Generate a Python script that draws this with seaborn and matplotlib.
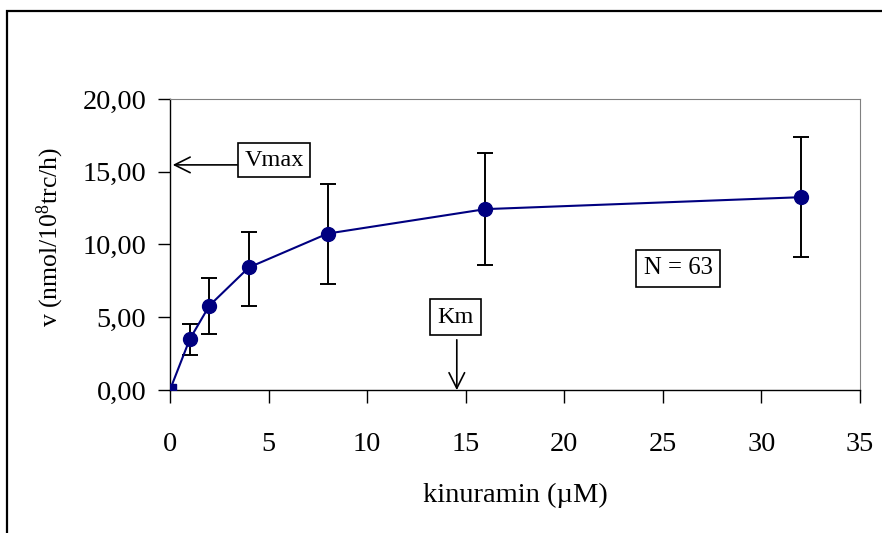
import numpy as np
import pandas as pd
import seaborn as sns
import matplotlib.pyplot as plt
from matplotlib.patches import Rectangle
from matplotlib.ticker import FuncFormatter

# Data
conc = [0, 1, 2, 4, 8, 16, 32]
rate = [0.0, 3.48, 5.8, 8.42, 10.75, 12.43, 13.25]
err_low = [0.0, 2.38, 3.85, 5.8, 7.3, 8.57, 9.12]
err_high = [0.0, 4.55, 7.7, 10.88, 14.16, 16.3, 17.4]

x_ticks = [0, 5, 10, 15, 20, 25, 30, 35]
y_ticks = [0, 5, 10, 15, 20]
vmax_y = 15.47
km_x = 14.55
n_label = 'N = 63'

df = pd.DataFrame({'conc': conc, 'rate': rate})

sns.set_style('ticks')
plt.rcParams['font.family'] = ['Liberation Serif', 'DejaVu Serif']
plt.rcParams['mathtext.fontset'] = 'custom'
plt.rcParams['mathtext.rm'] = 'Liberation Serif'
plt.rcParams['mathtext.default'] = 'regular'
plt.rcParams['text.color'] = 'black'
plt.rcParams['axes.labelcolor'] = 'black'
plt.rcParams['xtick.color'] = 'black'
plt.rcParams['ytick.color'] = 'black'

fig = plt.figure(figsize=(8.82, 5.33), dpi=100)
ax = fig.add_axes([0.1927, 0.2683, 0.975 - 0.1927, 0.8143 - 0.2683])

# outer frame of the picture
fig.patches.append(Rectangle((7 / 882, -0.5), 1.5, 1 - 11 / 533 + 0.5, transform=fig.transFigure,
                             fill=False, edgecolor='black', lw=1.6))

navy = '#000080'
# error bars
yerr = [np.array(rate) - np.array(err_low), np.array(err_high) - np.array(rate)]
ax.errorbar(conc[1:], rate[1:], yerr=[yerr[0][1:], yerr[1][1:]], fmt='none',
            ecolor='black', elinewidth=1.4, capsize=6, capthick=1.4, zorder=2)

sns.lineplot(data=df, x='conc', y='rate', color=navy, lw=1.5, ax=ax, zorder=3)
ax.plot(conc[1:], rate[1:], 'o', color=navy, markersize=10, zorder=4)
ax.plot(conc[:1], rate[:1], 's', color=navy, markersize=8, zorder=4, clip_on=True)

ax.set_xlim(0, 35)
ax.set_ylim(0, 20)
ax.set_xticks(x_ticks)
ax.set_yticks(y_ticks)
ax.yaxis.set_major_formatter(FuncFormatter(lambda v, p: f'{v:.2f}'.replace('.', ',')))
ax.tick_params(axis='x', length=9, width=1, pad=21, labelsize=20.3)
ax.tick_params(axis='y', length=9, width=1, pad=8, labelsize=20.3)

for s in ['top', 'right']:
    ax.spines[s].set_visible(True)
    ax.spines[s].set_color('#808080')
for s in ['left', 'bottom']:
    ax.spines[s].set_color('black')
    ax.spines[s].set_linewidth(1)

ax.set_xlabel('kinuramin (\u00b5M)', fontsize=20.5, labelpad=19)
ax.set_ylabel('v (nmol/10$^{8}$trc/h)', fontsize=18.5)
ax.yaxis.label.set_va('center')
ax.yaxis.set_label_coords((50 - 170) / 690, (390 - 237) / 291)

box = dict(boxstyle='square,pad=0.26', facecolor='white', edgecolor='black', lw=1.2)
# Vmax
ax.text(5.3, 15.8, 'Vmax', fontsize=17.5, ha='center', va='center', bbox=box)
ax.annotate('', xy=(0, vmax_y), xytext=(3.55, vmax_y),
            arrowprops=dict(arrowstyle='->', lw=1.2, color='black', mutation_scale=28))
# Km
ax.text(km_x - 0.05, 5.0, 'Km', fontsize=17.5, ha='center', va='center',
        bbox=dict(boxstyle='square,pad=0.3', facecolor='white', edgecolor='black', lw=1.2))
ax.annotate('', xy=(km_x, -0.2), xytext=(km_x, 3.64), annotation_clip=False,
            arrowprops=dict(arrowstyle='->', lw=1.2, color='black', mutation_scale=28))
# N
ax.text(25.77, 8.35, n_label, fontsize=17.8, ha='center', va='center',
        bbox=dict(boxstyle='square,pad=0.3', facecolor='white', edgecolor='black', lw=1.2))

fig.savefig('out.png', dpi=100)
